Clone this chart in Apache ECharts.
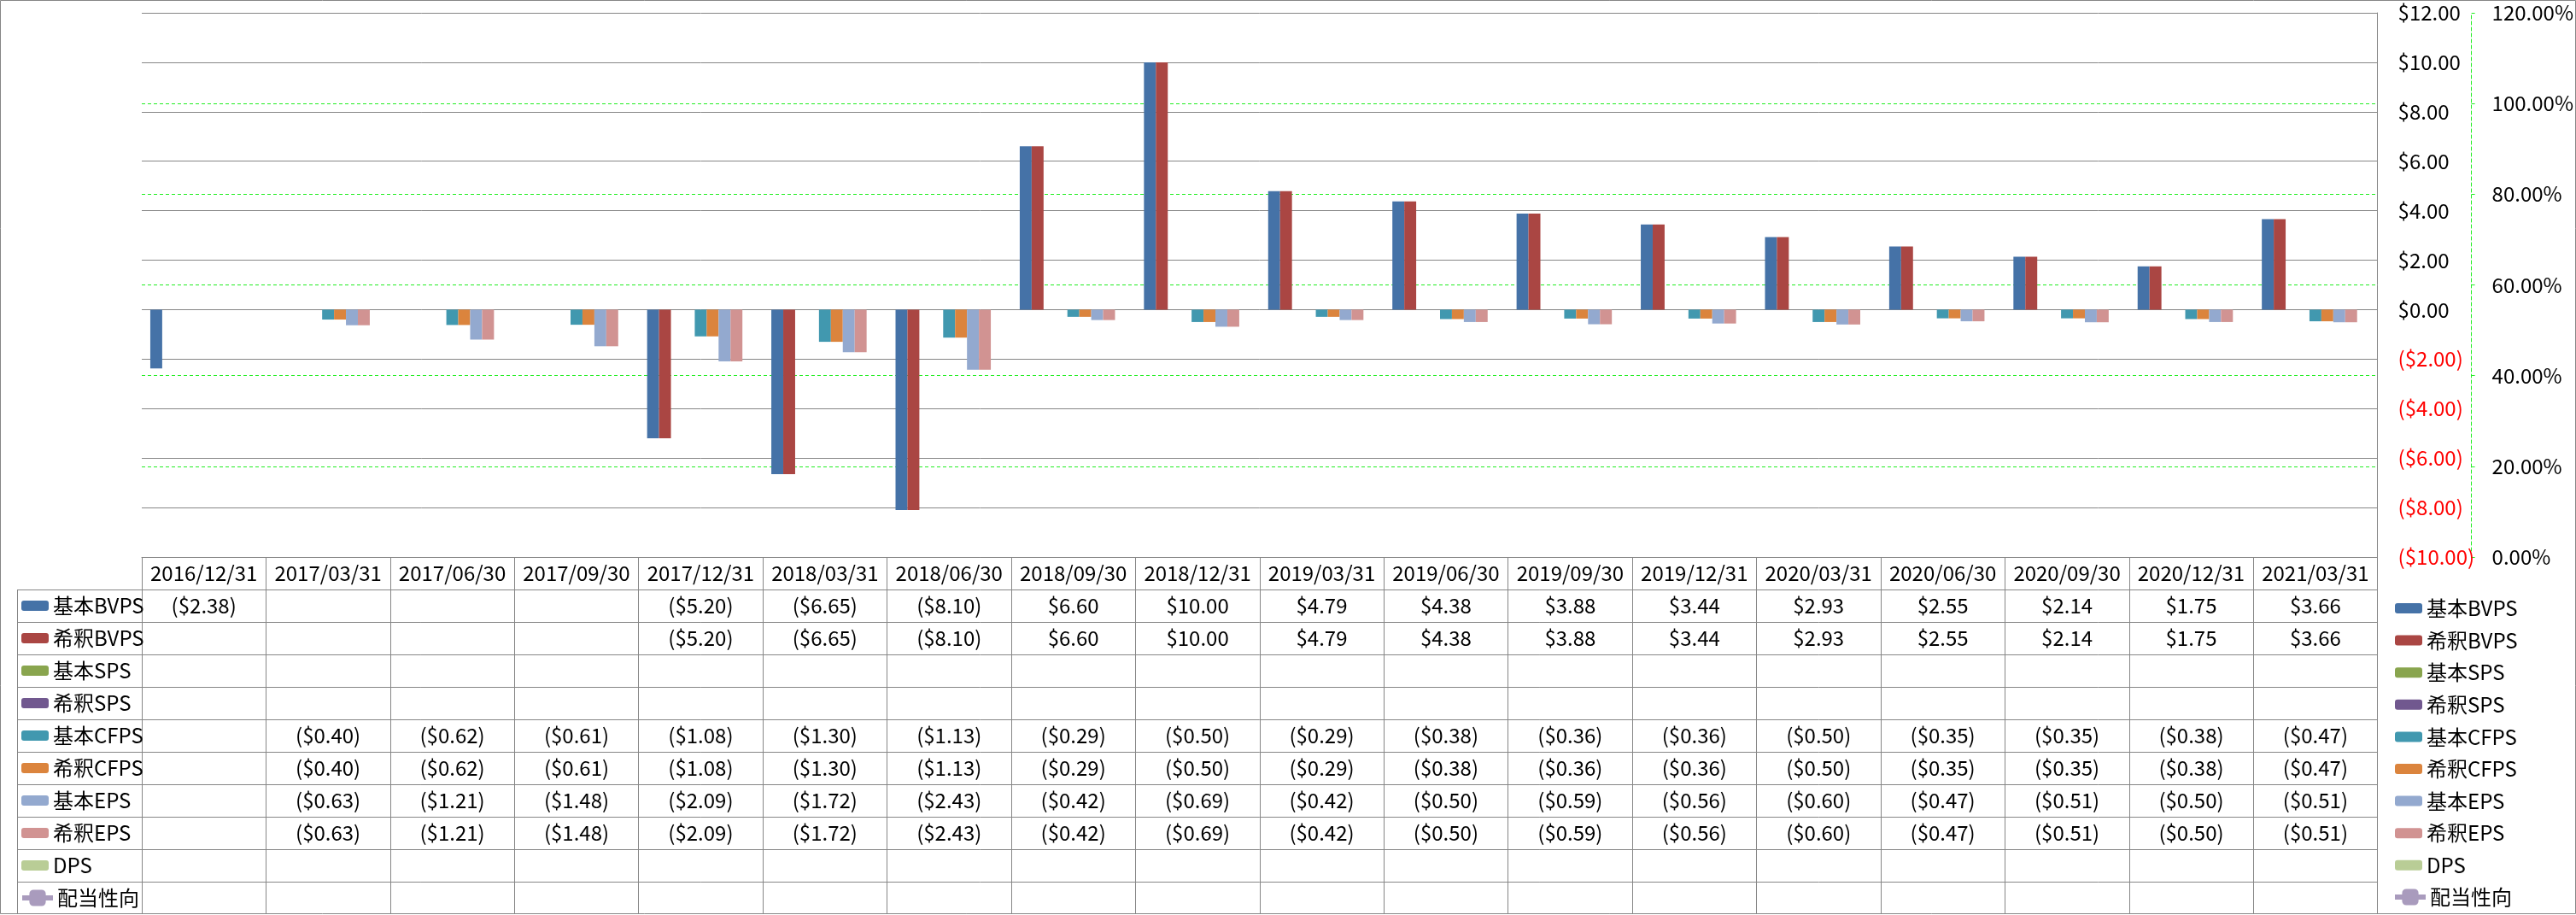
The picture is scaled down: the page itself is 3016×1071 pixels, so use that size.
<!DOCTYPE html>
<html><head><meta charset="utf-8">
<script src="https://cdn.jsdelivr.net/npm/echarts@6/dist/echarts.min.js"></script>
<style>html,body{margin:0;padding:0;background:#fff}#c{width:3016px;height:1071px}</style>
</head><body><div id="c"></div>
<script>
// ---- data ----
const categories = ['2016/12/31','2017/03/31','2017/06/30','2017/09/30','2017/12/31','2018/03/31','2018/06/30','2018/09/30','2018/12/31','2019/03/31','2019/06/30','2019/09/30','2019/12/31','2020/03/31','2020/06/30','2020/09/30','2020/12/31','2021/03/31'];
const basicBVPS   = [-2.38, null, null, null, -5.20, -6.65, -8.10, 6.60, 10.00, 4.79, 4.38, 3.88, 3.44, 2.93, 2.55, 2.14, 1.75, 3.66];
const dilutedBVPS = [null, null, null, null, -5.20, -6.65, -8.10, 6.60, 10.00, 4.79, 4.38, 3.88, 3.44, 2.93, 2.55, 2.14, 1.75, 3.66];
const basicSPS    = [null, null, null, null, null, null, null, null, null, null, null, null, null, null, null, null, null, null];
const dilutedSPS  = [null, null, null, null, null, null, null, null, null, null, null, null, null, null, null, null, null, null];
const basicCFPS   = [null, -0.40, -0.62, -0.61, -1.08, -1.30, -1.13, -0.29, -0.50, -0.29, -0.38, -0.36, -0.36, -0.50, -0.35, -0.35, -0.38, -0.47];
const dilutedCFPS = [null, -0.40, -0.62, -0.61, -1.08, -1.30, -1.13, -0.29, -0.50, -0.29, -0.38, -0.36, -0.36, -0.50, -0.35, -0.35, -0.38, -0.47];
const basicEPS    = [null, -0.63, -1.21, -1.48, -2.09, -1.72, -2.43, -0.42, -0.69, -0.42, -0.50, -0.59, -0.56, -0.60, -0.47, -0.51, -0.50, -0.51];
const dilutedEPS  = [null, -0.63, -1.21, -1.48, -2.09, -1.72, -2.43, -0.42, -0.69, -0.42, -0.50, -0.59, -0.56, -0.60, -0.47, -0.51, -0.50, -0.51];
const dps         = [null, null, null, null, null, null, null, null, null, null, null, null, null, null, null, null, null, null];
const payoutRatio = [null, null, null, null, null, null, null, null, null, null, null, null, null, null, null, null, null, null];
const dollarAxisMin = -10, dollarAxisMax = 12, dollarAxisStep = 2;
const pctAxisMin = 0, pctAxisMax = 120, pctAxisStep = 20;

// ---- styling ----
const FONT = "'Noto Sans CJK JP', 'Noto Sans', sans-serif";
const FS = 24;
const GRAY = '#868686';
const GREEN = '#22EE22';
const ROW_H = 38;

const barDefs = [
  {name:'基本BVPS', data:basicBVPS, color:'#4572A7'},
  {name:'希釈BVPS', data:dilutedBVPS, color:'#AA4643'},
  {name:'基本SPS', data:basicSPS, color:'#89A54E'},
  {name:'希釈SPS', data:dilutedSPS, color:'#71588F'},
  {name:'基本CFPS', data:basicCFPS, color:'#4198AF'},
  {name:'希釈CFPS', data:dilutedCFPS, color:'#DB843D'},
  {name:'基本EPS', data:basicEPS, color:'#93A9CF'},
  {name:'希釈EPS', data:dilutedEPS, color:'#D19392'},
  {name:'DPS', data:dps, color:'#B9CD96'}
];
const lineDef = {name:'配当性向', data:payoutRatio, color:'#A99BBD'};
const rowDefs = barDefs.concat([lineDef]);

function fmtDollar(v){
  if (v === null || v === undefined) return '';
  return v < 0 ? '($' + Math.abs(v).toFixed(2) + ')' : '$' + v.toFixed(2);
}

const txt = {fontFamily: FONT, fontSize: FS, color: '#000'};

const xAxes = [{
  type:'category', data: categories, position:'bottom', offset:0,
  axisLine:{show:true, onZero:false, lineStyle:{color:GRAY, width:1}},
  axisTick:{show:true, length:ROW_H, lineStyle:{color:GRAY, width:1}},
  axisLabel:Object.assign({interval:0, margin:19, verticalAlign:'middle', hideOverlap:false}, txt),
  splitLine:{show:false}
}].concat(rowDefs.map((r, k) => ({
  type:'category', data: categories, position:'bottom', offset: ROW_H * (k + 1),
  axisLine:{show:true, onZero:false, lineStyle:{color:GRAY, width:1}},
  axisTick:{show:true, length:ROW_H, lineStyle:{color:GRAY, width:1}},
  axisLabel:Object.assign({interval:0, margin:19, verticalAlign:'middle', hideOverlap:false,
    formatter:(v, i) => fmtDollar(r.data[i])}, txt),
  splitLine:{show:false}
})));

const series = barDefs.map(d => ({
  name:d.name, type:'bar', data:d.data, xAxisIndex:0, yAxisIndex:0,
  barGap:'0%', barCategoryGap:'13.7%',
  itemStyle:{color:d.color}
})).concat([{
  name:lineDef.name, type:'line', data:lineDef.data, xAxisIndex:0, yAxisIndex:1,
  symbol:'roundRect', symbolSize:18,
  itemStyle:{color:lineDef.color}, lineStyle:{color:lineDef.color, width:6}
}]);

const barNames = barDefs.map(d => d.name);
const legendText = {fontFamily:FONT, fontSize:FS, color:'#000', lineHeight:24};
const barLegend = {
  orient:'vertical', data: barNames, itemWidth:32, itemHeight:12, padding:0,
  textStyle:legendText, selectedMode:false
};
const lineLegend = {
  orient:'vertical',
  data: [{name:lineDef.name, itemStyle:{color:lineDef.color}, lineStyle:{color:lineDef.color, width:6}}],
  itemWidth:36, itemHeight:24, padding:0,
  textStyle:legendText, selectedMode:false
};

const graphics = [
  {type:'rect', shape:{x:0.5, y:0.5, width:3015, height:1069}, style:{fill:'none', stroke:GRAY, lineWidth:1}, silent:true},
  {type:'line', shape:{x1:20.5, y1:690, x2:20.5, y2:1070}, style:{stroke:GRAY, lineWidth:1}, silent:true}
];
for (let k = 0; k < 10; k++) {
  const y = 690 + ROW_H * k + 0.5;
  graphics.push({type:'line', shape:{x1:20, y1:y, x2:166, y2:y}, style:{stroke:GRAY, lineWidth:1}, silent:true});
}

const option = {
  backgroundColor:'#fff',
  animation:false,
  grid:{left:166, right:225, top:15, bottom:419, containLabel:false},
  legend:[
    Object.assign({left:25, top:697, itemGap:14}, barLegend),
    Object.assign({left:23, top:1039}, lineLegend),
    Object.assign({left:2804, top:700, itemGap:13.6}, barLegend),
    Object.assign({left:2801, top:1038}, lineLegend)
  ],
  xAxis: xAxes,
  yAxis:[{
    type:'value', position:'right', min:dollarAxisMin, max:dollarAxisMax, interval:dollarAxisStep,
    axisLine:{show:true, lineStyle:{color:GRAY, width:1}},
    axisTick:{show:false},
    axisLabel:{margin:24, fontFamily:FONT, fontSize:FS,
      color:(v) => (Number(v) < 0 ? '#FF0000' : '#000'),
      formatter:(v) => fmtDollar(v)},
    splitLine:{show:true, lineStyle:{color:GRAY, width:1}}
  },{
    type:'value', position:'right', offset:110, min:pctAxisMin, max:pctAxisMax, interval:pctAxisStep,
    axisLine:{show:true, lineStyle:{color:GREEN, width:1, type:[4,3]}},
    axisTick:{show:true, inside:false, length:7, lineStyle:{color:GREEN, width:1, type:[4,3]}},
    axisLabel:{margin:24, fontFamily:FONT, fontSize:FS, color:'#000',
      formatter:(v) => Number(v).toFixed(2) + '%'},
    splitLine:{show:true, showMinLine:false, showMaxLine:false, lineStyle:{color:GREEN, width:1, type:[4,3]}}
  }],
  series: series,
  graphic: graphics
};

const chart = echarts.init(document.getElementById('c'), null, {renderer:'canvas'});
chart.setOption(option);
</script>
</body></html>
